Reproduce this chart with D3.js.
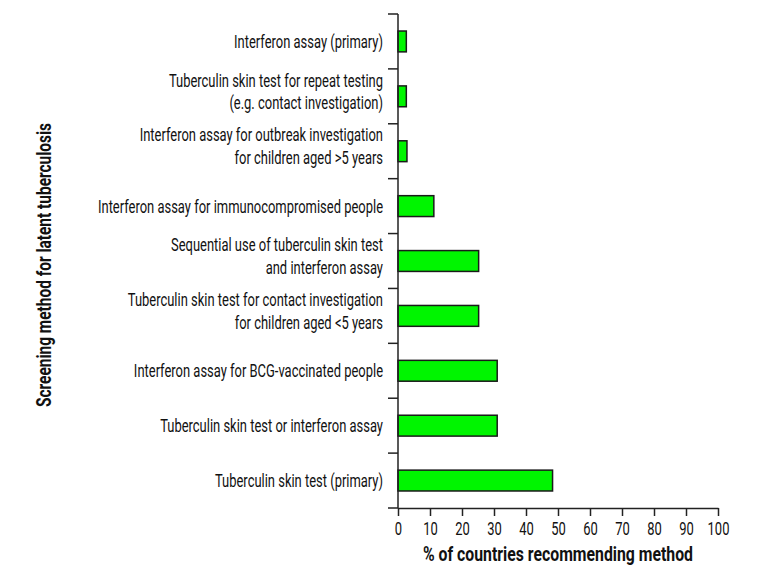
<!DOCTYPE html>
<html>
<head>
<meta charset="utf-8">
<script src="https://cdn.jsdelivr.net/npm/d3@7"></script>
<style>
  body { margin: 0; background: #fff; }
  text { font-family: Roboto, "Liberation Sans", sans-serif; fill: #111; }
</style>
</head>
<body>
<svg id="chart" width="771" height="575"></svg>
<script>
// categories top to bottom, each label split into lines
const methods = [
    ["Interferon assay (primary)"],
    ["Tuberculin skin test for repeat testing", "(e.g. contact investigation)"],
    ["Interferon assay for outbreak investigation", "for children aged >5 years"],
    ["Interferon assay for immunocompromised people"],
    ["Sequential use of tuberculin skin test", "and interferon assay"],
    ["Tuberculin skin test for contact investigation", "for children aged <5 years"],
    ["Interferon assay for BCG-vaccinated people"],
    ["Tuberculin skin test or interferon assay"],
    ["Tuberculin skin test (primary)"]
];
const percents = [2.6, 2.6, 2.8, 11.2, 25.2, 25.2, 31, 31, 48.3];
const xTicks = [0, 10, 20, 30, 40, 50, 60, 70, 80, 90, 100];

const plotLeft = 398, plotRight = 718, plotTop = 14, plotBottom = 508;
const squeeze = 0.72;   // narrow the font to look like a condensed face
const svg = d3.select('#chart');

const x = d3.scaleLinear().domain([0, 100]).range([plotLeft, plotRight]);
const y = d3.scaleBand()
    .domain(d3.range(methods.length))
    .range([plotTop, plotBottom])
    .paddingInner(0.62)
    .paddingOuter(0.31);

// bars
svg.append('g').selectAll('rect')
    .data(percents)
    .enter().append('rect')
    .attr('x', x(0))
    .attr('y', (d, i) => y(i))
    .attr('width', d => x(d) - x(0))
    .attr('height', y.bandwidth())
    .attr('fill', '#00f500')
    .attr('stroke', '#1a1a1a')
    .attr('stroke-width', 1.5);

// y axis: vertical line with ticks at band boundaries
const step = y.step();
const yAxis = svg.append('g');
yAxis.append('line')
    .attr('x1', plotLeft).attr('x2', plotLeft)
    .attr('y1', plotTop).attr('y2', plotBottom)
    .attr('stroke', '#222').attr('stroke-width', 1.5);
yAxis.selectAll('.sep')
    .data(d3.range(methods.length + 1))
    .enter().append('line')
    .attr('x1', plotLeft - 10).attr('x2', plotLeft)
    .attr('y1', i => plotTop + i * step).attr('y2', i => plotTop + i * step)
    .attr('stroke', '#222').attr('stroke-width', 1.5);

// category labels
const lineGap = 22.5;
yAxis.selectAll('.lab')
    .data(methods)
    .enter().append('text')
    .attr('text-anchor', 'end')
    .attr('font-size', 18)
    .attr('transform', (d, i) => `translate(383,${y(i) + y.bandwidth() / 2}) scale(${squeeze},1)`)
    .each(function (lines) {
        const t = d3.select(this);
        const base = lines.length === 1 ? 6.5 : 1.5;
        lines.forEach((s, k) => {
            t.append('tspan')
                .attr('x', 0)
                .attr('y', base + (k - (lines.length - 1) / 2) * lineGap)
                .text(s);
        });
    });

// x axis
const xAxis = svg.append('g')
    .attr('transform', `translate(0,${plotBottom})`)
    .call(d3.axisBottom(x).tickValues(xTicks).tickSize(8).tickSizeOuter(0).tickPadding(6));
xAxis.select('.domain').attr('stroke', '#222').attr('stroke-width', 1.5);
xAxis.selectAll('.tick line').attr('stroke', '#222').attr('stroke-width', 1.5);
xAxis.selectAll('.tick text')
    .attr('font-size', 18)
    .attr('font-family', 'Roboto, "Liberation Sans", sans-serif')
    .attr('fill', '#111')
    .attr('transform', `scale(${squeeze},1)`);

// axis titles
svg.append('text')
    .attr('x', 558)
    .attr('y', 561)
    .attr('text-anchor', 'middle')
    .attr('font-size', 20)
    .attr('font-weight', 'bold')
    .attr('textLength', 270)
    .attr('lengthAdjust', 'spacingAndGlyphs')
    .text('% of countries recommending method');

svg.append('text')
    .attr('transform', 'translate(51,265) rotate(-90)')
    .attr('text-anchor', 'middle')
    .attr('font-size', 20)
    .attr('font-weight', 'bold')
    .attr('textLength', 284)
    .attr('lengthAdjust', 'spacingAndGlyphs')
    .text('Screening method for latent tuberculosis');
</script>
</body>
</html>
